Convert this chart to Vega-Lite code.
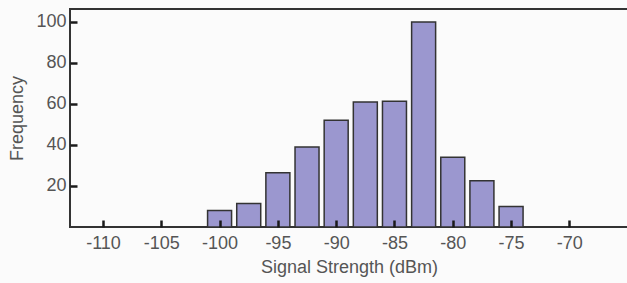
{
  "$schema": "https://vega.github.io/schema/vega-lite/v6.json",
  "width": 558,
  "height": 218,
  "autosize": {"type": "none"},
  "padding": {"left": 70, "top": 9, "right": 0, "bottom": 56},
  "background": "#fbfbfb",
  "config": {
    "view": {"stroke": "#333333", "strokeWidth": 2},
    "font": "Liberation Sans",
    "axis": {
      "grid": false,
      "domain": false,
      "labelColor": "#555555",
      "labelFontSize": 18,
      "titleColor": "#555555",
      "titleFontSize": 18,
      "titleFontWeight": "normal",
      "labelExpr": "'' + datum.value"
    }
  },
  "data": {
    "values": [
      {"signal": -100, "frequency": 8},
      {"signal": -97.5, "frequency": 11.5},
      {"signal": -95, "frequency": 26.5},
      {"signal": -92.5, "frequency": 39},
      {"signal": -90, "frequency": 52},
      {"signal": -87.5, "frequency": 61},
      {"signal": -85, "frequency": 61.3},
      {"signal": -82.5, "frequency": 100},
      {"signal": -80, "frequency": 34},
      {"signal": -77.5, "frequency": 22.5},
      {"signal": -75, "frequency": 10}
    ]
  },
  "mark": {"type": "bar", "size": 24, "fill": "#9b97cf", "stroke": "#333333", "strokeWidth": 1.5},
  "encoding": {
    "x": {
      "field": "signal",
      "type": "quantitative",
      "scale": {"domain": [-112.4, -65.4], "nice": false, "zero": false},
      "axis": {
        "title": "Signal Strength (dBm)",
        "values": [-110, -105, -100, -95, -90, -85, -80, -75, -70],
        "offset": -7,
        "ticks": true,
        "tickSize": 7,
        "tickWidth": 2.5,
        "tickColor": "#1a1a1a",
        "zindex": 1,
        "labelPadding": 7,
        "titlePadding": 6
      }
    },
    "y": {
      "field": "frequency",
      "type": "quantitative",
      "scale": {"domain": [0, 106.3], "nice": false},
      "axis": {
        "title": "Frequency",
        "values": [20, 40, 60, 80, 100],
        "offset": -7,
        "ticks": true,
        "tickSize": 7,
        "tickWidth": 2.5,
        "tickColor": "#1a1a1a",
        "zindex": 1,
        "labelPadding": 4,
        "titlePadding": 9
      }
    }
  }
}
